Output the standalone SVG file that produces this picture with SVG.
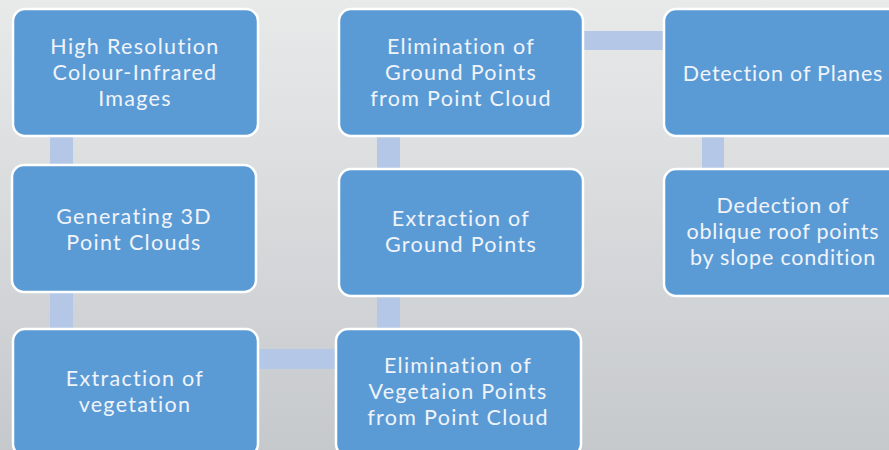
<svg xmlns="http://www.w3.org/2000/svg" width="889" height="450" viewBox="0 0 889 450">
<defs>
<linearGradient id="bg" x1="0" y1="0" x2="0" y2="1">
<stop offset="0" stop-color="#e8eaea"/>
<stop offset="1" stop-color="#c6c9cc"/>
</linearGradient>
</defs>
<style>
.box{fill:#5b9bd5;stroke:#ffffff;stroke-width:2.5}
.lbl{fill:#f0f4fa;font-family:Lato,"Open Sans","Liberation Sans",sans-serif;font-size:21.5px;letter-spacing:1.3px;text-anchor:middle}
.con{fill:#b4c7e7}
</style>
<rect width="889" height="450" fill="url(#bg)"/>
<g id="connectors">
<rect class="con" x="50" y="135" width="23" height="32"/>
<rect class="con" x="50" y="291" width="23" height="40"/>
<rect class="con" x="256" y="349" width="82" height="20"/>
<rect class="con" x="377" y="294" width="23" height="37"/>
<rect class="con" x="377" y="134" width="23" height="37"/>
<rect class="con" x="581" y="31" width="85" height="19"/>
<rect class="con" x="702" y="135" width="22" height="35"/>
</g>
<g id="n1">
<rect class="box" x="13" y="9" width="245" height="127" rx="12"/>
<text class="lbl" x="135" y="54">High Resolution</text>
<text class="lbl" x="135" y="80">Colour-Infrared</text>
<text class="lbl" x="135" y="106">Images</text>
</g>
<g id="n2">
<rect class="box" x="12" y="165" width="244" height="127" rx="12"/>
<text class="lbl" x="134" y="224">Generating 3D</text>
<text class="lbl" x="134" y="250">Point Clouds</text>
</g>
<g id="n3">
<rect class="box" x="13" y="329" width="245" height="127" rx="12"/>
<text class="lbl" x="135" y="386">Extraction of</text>
<text class="lbl" x="135" y="412">vegetation</text>
</g>
<g id="n4">
<rect class="box" x="339" y="9" width="244" height="127" rx="12"/>
<text class="lbl" x="461" y="54">Elimination of</text>
<text class="lbl" x="461" y="80">Ground Points</text>
<text class="lbl" x="461" y="106">from Point Cloud</text>
</g>
<g id="n5">
<rect class="box" x="339" y="169" width="244" height="127" rx="12"/>
<text class="lbl" x="461" y="226">Extraction of</text>
<text class="lbl" x="461" y="252">Ground Points</text>
</g>
<g id="n6">
<rect class="box" x="336" y="329" width="245" height="127" rx="12"/>
<text class="lbl" x="458" y="373">Elimination of</text>
<text class="lbl" x="458" y="399">Vegetaion Points</text>
<text class="lbl" x="458" y="425">from Point Cloud</text>
</g>
<g id="n7">
<rect class="box" x="664" y="9" width="245" height="127" rx="12"/>
<text class="lbl" x="783" y="81" style="letter-spacing:0.8px">Detection of Planes</text>
</g>
<g id="n8">
<rect class="box" x="664" y="169" width="245" height="127" rx="12"/>
<text class="lbl" x="783" y="213" style="letter-spacing:0.8px">Dedection of</text>
<text class="lbl" x="783" y="239" style="letter-spacing:0.8px">oblique roof points</text>
<text class="lbl" x="783" y="265" style="letter-spacing:0.8px">by slope condition</text>
</g>
</svg>
